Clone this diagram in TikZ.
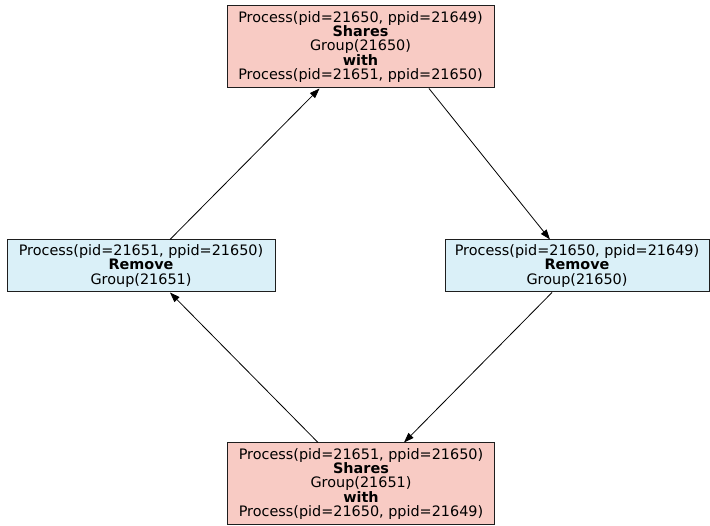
\documentclass[tikz,border=0pt]{standalone}
\usepackage{fontspec}
\setmainfont{DejaVu Sans}
\usetikzlibrary{arrows.meta}
\definecolor{sharefill}{RGB}{248,203,196}
\definecolor{removefill}{RGB}{218,240,248}
\definecolor{edgeline}{RGB}{30,30,30}
\tikzset{
  procbox/.style={draw=edgeline, line width=1pt, inner sep=0pt, align=center,
    font=\fontsize{14.4}{14.2}\selectfont},
  sharebox/.style={procbox, fill=sharefill, minimum width=267pt, minimum height=82pt},
  removebox/.style={procbox, fill=removefill, minimum height=52pt},
  link/.style={draw=black, line width=0.8pt, -{Triangle[length=10pt,width=7pt]}}
}
\begin{document}
\begin{tikzpicture}[x=1pt, y=-1pt]
  \useasboundingbox (0,0) rectangle (710,526);

  \node[sharebox] (top) at (360.5,47)
    {Process(pid=21650, ppid=21649)\\\textbf{Shares}\\Group(21650)\\\textbf{with}\\Process(pid=21651, ppid=21650)};
  \node[removebox, minimum width=268pt] (left) at (141,266)
    {Process(pid=21651, ppid=21650)\\\textbf{Remove}\\Group(21651)};
  \node[removebox, minimum width=264pt] (right) at (577,266)
    {Process(pid=21650, ppid=21649)\\\textbf{Remove}\\Group(21650)};
  \node[sharebox] (bottom) at (361,484)
    {Process(pid=21651, ppid=21650)\\\textbf{Shares}\\Group(21651)\\\textbf{with}\\Process(pid=21650, ppid=21649)};

  \draw[link] ([xshift=29pt]left.north) -- ([xshift=-41pt]top.south);
  \draw[link] ([xshift=68.5pt]top.south) -- ([xshift=-27pt]right.north);
  \draw[link] ([xshift=-25pt]right.south) -- ([xshift=43pt]bottom.north);
  \draw[link] ([xshift=-43pt]bottom.north) -- ([xshift=29pt]left.south);
\end{tikzpicture}
\end{document}
